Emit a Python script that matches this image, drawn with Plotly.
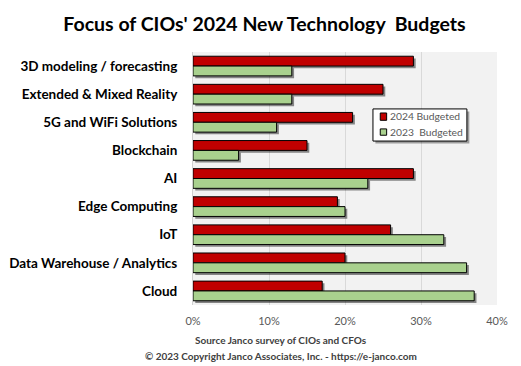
import plotly.graph_objects as go

categories = ["3D modeling / forecasting", "Extended & Mixed Reality", "5G and WiFi Solutions",
              "Blockchain", "AI", "Edge Computing", "IoT", "Data Warehouse / Analytics", "Cloud"]
budget_2024 = [29, 25, 21, 15, 29, 19, 26, 20, 17]
budget_2023 = [13, 13, 11, 6, 23, 20, 33, 36, 37]
series_names = ["2024 Budgeted", "2023  Budgeted"]
series_colors = ["#c00000", "#a9d18e"]
x_ticks = [0, 10, 20, 30, 40]
x_tick_labels = ["0%", "10%", "20%", "30%", "40%"]

BAR_W = 0.35
offsets = [-BAR_W, 0.0]

fig = go.Figure()
# soft drop shadows (Excel style)
for vals, off in zip([budget_2024, budget_2023], offsets):
    fig.add_trace(go.Bar(y=categories, x=vals, orientation="h", base=0.3, offset=off + 0.08,
                         width=BAR_W, marker=dict(color="rgba(0,0,0,0.45)", line=dict(width=0)),
                         showlegend=False, hoverinfo="skip"))
for vals, name, col, off in zip([budget_2024, budget_2023], series_names, series_colors, offsets):
    fig.add_trace(go.Bar(y=categories, x=vals, orientation="h", name=name, offset=off, width=BAR_W,
                         marker=dict(color=col, line=dict(color="black", width=1))))

fig.update_layout(
    width=513, height=358,
    margin=dict(l=185, r=24, t=44, b=61),
    paper_bgcolor="white", plot_bgcolor="#f2f2f2",
    barmode="overlay",
    font=dict(family="Lato", color="#000000"),
    title=dict(text="<b>Focus of CIOs' 2024 New Technology  Budgets</b>", x=0.5, xanchor="center",
               y=0.955, yanchor="middle", font=dict(size=19.5, family="Lato", color="black")),
    showlegend=False,
    xaxis=dict(range=[0, 40], tickvals=x_ticks, ticktext=x_tick_labels, showgrid=True,
               gridcolor="#d9d9d9", gridwidth=1, zeroline=False, showline=False, automargin=False,
               tickfont=dict(size=11, color="#595959"), ticks="", ticklabelstandoff=8),
    yaxis=dict(autorange="reversed", tickfont=dict(size=13.5, color="black", family="Lato"),
               ticks="", ticklabelstandoff=12, showline=True, linecolor="#d0d0d0", linewidth=1,
               automargin=False),
)
fig.update_yaxes(tickprefix="<b>", ticksuffix="</b>")

# legend box (drawn manually to match the compact Excel-style legend)
fig.add_shape(type="rect", xref="paper", yref="paper", x0=0.600, x1=0.909, y0=0.638, y1=0.765,
              line=dict(width=0), fillcolor="rgba(0,0,0,0.35)", layer="above")
fig.add_shape(type="rect", xref="paper", yref="paper", x0=0.592, x1=0.901, y0=0.648, y1=0.775,
              line=dict(color="black", width=1), fillcolor="white", layer="above")
sq_y = [(0.730, 0.759), (0.671, 0.696)]
txt_y = [0.747, 0.684]
for (y0, y1), ty, name, col in zip(sq_y, txt_y, series_names, series_colors):
    fig.add_shape(type="rect", xref="paper", yref="paper", x0=0.616, x1=0.637, y0=y0, y1=y1,
                  line=dict(color="black", width=1), fillcolor=col, layer="above")
    fig.add_annotation(text=name, xref="paper", yref="paper", x=0.641, y=ty, xanchor="left",
                       yanchor="middle", showarrow=False, font=dict(size=10.3, color="#595959"))

fig.add_annotation(text="<b>Source Janco survey of CIOs and CFOs</b>", xref="paper", yref="paper",
                   x=0.289, y=-0.138, xanchor="center", yanchor="middle", showarrow=False,
                   font=dict(size=10, color="#404040"))
fig.add_annotation(text="<b>© 2023 Copyright Janco Associates, Inc. - https://e-janco.com</b>",
                   xref="paper", yref="paper", x=0.289, y=-0.2016, xanchor="center", yanchor="middle",
                   showarrow=False, font=dict(size=10, color="#404040"))

fig.write_html("out.html")
